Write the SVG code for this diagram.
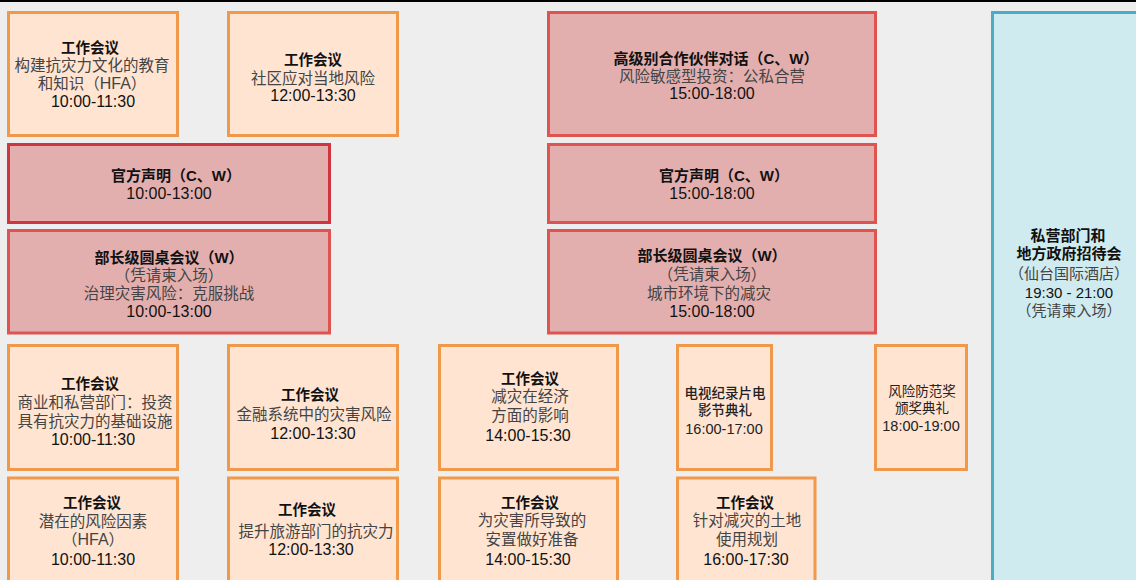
<svg xmlns="http://www.w3.org/2000/svg" width="1136" height="580" viewBox="0 0 1136 580">
<style>
.ws{fill:#ffe4d2;stroke:#f0994b;stroke-width:3}
.hl{fill:#e3afae;stroke:#dd5450;stroke-width:3}
.hd{fill:#e3afae;stroke:#cf3540;stroke-width:3}
.rc{fill:#cfebf0;stroke:#4aadc5;stroke-width:3}
text{font-family:"Liberation Sans","Noto Sans CJK SC",sans-serif;text-anchor:middle}
.t{font-size:14.5px;font-weight:bold;fill:#111}
.s{font-size:15.5px;fill:#444}
.m{font-size:16px;fill:#111}
.e{font-size:13.5px;fill:#222}
.em{font-size:14.5px;fill:#222}
</style>
<rect x="0" y="0" width="1136" height="580" fill="#eeeeee"/>
<rect x="0" y="0" width="1136" height="2" fill="#000"/>

<g id="n-reception">
<rect class="rc" x="992.5" y="12.5" width="160" height="590"/>
<text class="t" x="1068" y="241" style="font-size:15px">私营部门和</text>
<text class="t" x="1069" y="259" style="font-size:15px">地方政府招待会</text>
<text class="s" x="1069" y="279" style="font-size:15px">（仙台国际酒店）</text>
<text class="m" x="1069" y="298" style="font-size:15px">19:30 - 21:00</text>
<text class="s" x="1069" y="316" style="font-size:15px">（凭请柬入场）</text>
</g>

<g id="n-hfa-culture">
<rect class="ws" x="8.5" y="12.5" width="169" height="123"/>
<text class="t" x="90" y="53">工作会议</text>
<text class="s" x="92" y="71">构建抗灾力文化的教育</text>
<text class="s" x="92" y="89">和知识（<tspan style="font-size:16px">HFA</tspan>）</text>
<text class="m" x="93" y="107">10:00-11:30</text>
</g>

<g id="n-community">
<rect class="ws" x="228.5" y="12.5" width="169" height="123"/>
<text class="t" x="313" y="65">工作会议</text>
<text class="s" x="313" y="84">社区应对当地风险</text>
<text class="m" x="313" y="101">12:00-13:30</text>
</g>

<g id="n-highlevel">
<rect class="hl" x="548.5" y="12.5" width="327" height="123"/>
<text class="t" x="716" y="64" style="font-size:15px">高级别合作伙伴对话（C、W）</text>
<text class="s" x="712" y="82">风险敏感型投资：公私合营</text>
<text class="m" x="712" y="99">15:00-18:00</text>
</g>

<g id="n-statement-am">
<rect class="hd" x="8.5" y="144.5" width="321" height="78"/>
<text class="t" x="176" y="181" style="font-size:15px">官方声明（C、W）</text>
<text class="m" x="169" y="199">10:00-13:00</text>
</g>

<g id="n-statement-pm">
<rect class="hl" x="548.5" y="144.5" width="327" height="78"/>
<text class="t" x="724" y="181" style="font-size:15px">官方声明（C、W）</text>
<text class="m" x="712" y="199">15:00-18:00</text>
</g>

<g id="n-minister-am">
<rect class="hl" x="8.5" y="230.5" width="321" height="102.5"/>
<text class="t" x="169" y="263" style="font-size:15px">部长级圆桌会议（W）</text>
<text class="s" x="169" y="281">（凭请柬入场）</text>
<text class="s" x="169" y="299">治理灾害风险：克服挑战</text>
<text class="m" x="169" y="317">10:00-13:00</text>
</g>

<g id="n-minister-pm">
<rect class="hl" x="548.5" y="230.5" width="327" height="102.5"/>
<text class="t" x="712" y="261" style="font-size:15px">部长级圆桌会议（W）</text>
<text class="s" x="712" y="280">（凭请柬入场）</text>
<text class="s" x="709" y="299">城市环境下的减灾</text>
<text class="m" x="712" y="317">15:00-18:00</text>
</g>

<g id="n-business">
<rect class="ws" x="8.5" y="345.5" width="169" height="124"/>
<text class="t" x="90" y="389">工作会议</text>
<text class="s" x="95" y="408">商业和私营部门：投资</text>
<text class="s" x="95" y="427">具有抗灾力的基础设施</text>
<text class="m" x="93" y="445">10:00-11:30</text>
</g>

<g id="n-finance">
<rect class="ws" x="228.5" y="345.5" width="169" height="124"/>
<text class="t" x="310" y="400">工作会议</text>
<text class="s" x="314" y="420">金融系统中的灾害风险</text>
<text class="m" x="313" y="439">12:00-13:30</text>
</g>

<g id="n-economy">
<rect class="ws" x="439.5" y="345.5" width="178" height="124"/>
<text class="t" x="530" y="384">工作会议</text>
<text class="s" x="530" y="402">减灾在经济</text>
<text class="s" x="530" y="421">方面的影响</text>
<text class="m" x="528" y="441">14:00-15:30</text>
</g>

<g id="n-film">
<rect class="ws" x="677.5" y="345.5" width="94" height="124"/>
<text class="e" x="725" y="398" style="font-weight:500">电视纪录片电</text>
<text class="e" x="725" y="415" style="font-weight:500">影节典礼</text>
<text class="em" x="724" y="434">16:00-17:00</text>
</g>

<g id="n-award">
<rect class="ws" x="875.5" y="345.5" width="91" height="124"/>
<text class="e" x="922" y="396">风险防范奖</text>
<text class="e" x="922" y="413">颁奖典礼</text>
<text class="em" x="921" y="431">18:00-19:00</text>
</g>

<g id="n-hfa-factors">
<rect class="ws" x="8.5" y="478" width="169" height="130"/>
<text class="t" x="92" y="508">工作会议</text>
<text class="s" x="93" y="527">潜在的风险因素</text>
<text class="s" x="93" y="545">（<tspan style="font-size:16px">HFA</tspan>）</text>
<text class="m" x="93" y="565">10:00-11:30</text>
</g>

<g id="n-tourism">
<rect class="ws" x="228.5" y="478" width="169" height="130"/>
<text class="t" x="307" y="515">工作会议</text>
<text class="s" x="316" y="537">提升旅游部门的抗灾力</text>
<text class="m" x="311" y="555">12:00-13:30</text>
</g>

<g id="n-relocation">
<rect class="ws" x="439.5" y="478" width="178" height="130"/>
<text class="t" x="530" y="508">工作会议</text>
<text class="s" x="532" y="526">为灾害所导致的</text>
<text class="s" x="532" y="545">安置做好准备</text>
<text class="m" x="528" y="565">14:00-15:30</text>
</g>

<g id="n-landuse">
<rect class="ws" x="677.5" y="478" width="137.5" height="130"/>
<text class="t" x="745" y="508">工作会议</text>
<text class="s" x="747" y="526">针对减灾的土地</text>
<text class="s" x="747" y="545">使用规划</text>
<text class="m" x="746" y="565">16:00-17:30</text>
</g>

<g id="connectors"></g>
</svg>
